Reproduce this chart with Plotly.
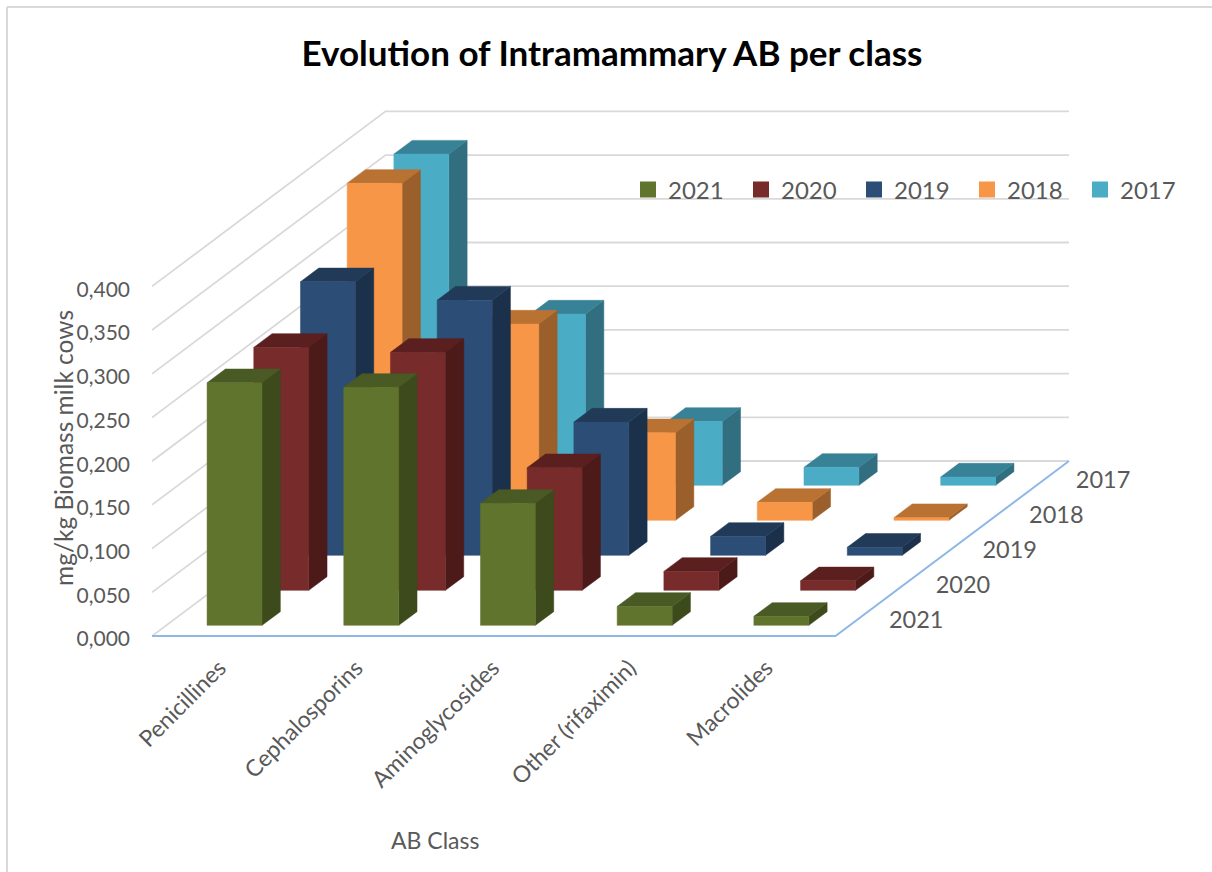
import plotly.graph_objects as go

categories = ["Penicillines", "Cephalosporins", "Aminoglycosides", "Other (rifaximin)", "Macrolides"]
years = ["2021", "2020", "2019", "2018", "2017"]
v2021 = [0.2776, 0.2723, 0.1396, 0.0217, 0.0103]
v2020 = [0.2780, 0.2723, 0.1403, 0.0217, 0.0109]
v2019 = [0.3130, 0.2920, 0.1525, 0.0217, 0.0092]
v2018 = [0.3856, 0.2246, 0.1002, 0.0206, 0.0031]
v2017 = [0.3790, 0.1960, 0.0732, 0.0206, 0.0095]
series = [v2021, v2020, v2019, v2018, v2017]
value_ticks = [0, 0.05, 0.10, 0.15, 0.20, 0.25, 0.30, 0.35, 0.40]

front_colors = ["#61742e", "#772b2b", "#2c4d75", "#f79646", "#4bacc6"]
top_colors = ["#4a5a24", "#5a1f1e", "#203a57", "#ba7233", "#388297"]
side_colors = ["#3d4a1b", "#4c1b19", "#1b304a", "#9a5f2b", "#316e80"]
grid_color = "#d9d9d9"
floor_color = "#8fb8e6"
text_color = "#595959"
font = "Lato"

W, H = 1212, 872
L, R, T, B = 152, 1190, 95, 650
ZERO = 636  # pixel row of value 0 on the front edge
px_per_cat = 136.7
px_per_val = 874.0
step_dx = 46.7 / px_per_cat   # oblique depth shift in category units
step_dy = 35.0 / px_per_val   # oblique depth shift in value units
bar_w = 0.402
bar_d = 0.392
n_c, n_s = len(categories), len(years)


def proj(c, v, d):
    return c + d * step_dx, v + d * step_dy


def ax_x(x):
    return (x - L) / (R - L)


def ax_y(y):
    return (B - y) / (B - T)


def polys(list_of_pts):
    xs, ys = [], []
    for pts in list_of_pts:
        for c, v, d in pts + [pts[0]]:
            a, b = proj(c, v, d)
            xs.append(a)
            ys.append(b)
        xs.append(None)
        ys.append(None)
    return xs, ys


fig = go.Figure()


def add_line(pts, color, width):
    xs, ys = [], []
    for c, v, d in pts:
        a, b = proj(c, v, d)
        xs.append(a)
        ys.append(b)
    fig.add_trace(go.Scatter(x=xs, y=ys, mode="lines", line=dict(color=color, width=width),
                             showlegend=False, hoverinfo="skip", cliponaxis=False))


# walls
for t in value_ticks:
    add_line([(0, t, 0), (0, t, n_s), (n_c, t, n_s)], grid_color, 1.8)
# floor edges
add_line([(0, 0, 0), (n_c, 0, 0), (n_c, 0, n_s)], floor_color, 2)

# bars, back to front
for s in range(n_s - 1, -1, -1):
    d0 = s + (1 - bar_d) / 2
    d1 = d0 + bar_d
    front, top, side = [], [], []
    for c, val in enumerate(series[s]):
        c0 = c + (1 - bar_w) / 2
        c1 = c0 + bar_w
        front.append([(c0, 0, d0), (c1, 0, d0), (c1, val, d0), (c0, val, d0)])
        top.append([(c0, val, d0), (c1, val, d0), (c1, val, d1), (c0, val, d1)])
        side.append([(c1, 0, d0), (c1, 0, d1), (c1, val, d1), (c1, val, d0)])
    for faces, col in ((side, side_colors[s]), (top, top_colors[s]), (front, front_colors[s])):
        xs, ys = polys(faces)
        fig.add_trace(go.Scatter(x=xs, y=ys, mode="lines", fill="toself", fillcolor=col,
                                 line=dict(color=col, width=0.5),
                                 showlegend=False, hoverinfo="skip"))

# depth-axis labels
lx, ly = [], []
for s in range(n_s):
    a, b = proj(n_c + 0.42, -0.004, s + 0.5)
    lx.append(a)
    ly.append(b)
fig.add_trace(go.Scatter(x=lx, y=ly, mode="text", text=years, textposition="middle center",
                         textfont=dict(family=font, size=23.5, color=text_color),
                         showlegend=False, hoverinfo="skip", cliponaxis=False))

# legend entries
for s in range(n_s):
    fig.add_trace(go.Scatter(x=[None], y=[None], mode="markers", name=years[s],
                             marker=dict(symbol="square", size=16, color=front_colors[s])))

fig.update_layout(
    width=W, height=H, autosize=False,
    margin=dict(l=L, r=W - R, t=T, b=H - B, pad=0, autoexpand=False),
    paper_bgcolor="white", plot_bgcolor="white",
    separators=", ",
    title=dict(text="<b>Evolution of Intramammary AB per class</b>", x=612 / W, y=1 - 54 / H,
               xanchor="center", yanchor="middle", font=dict(family=font, size=35, color="#000000")),
    legend=dict(orientation="h", x=ax_x(628), y=ax_y(190), xanchor="left", yanchor="middle",
                bgcolor="rgba(0,0,0,0)",
                entrywidth=68, entrywidthmode="pixels", traceorder="normal", tracegroupgap=0,
                font=dict(family=font, size=24, color=text_color), itemsizing="trace"),
    xaxis=dict(range=[0, (R - L) / px_per_cat], tickvals=[i + 0.5 for i in range(n_c)], ticktext=categories,
               tickangle=-45, showgrid=False, zeroline=False, showline=False, ticks="",
               ticklabelstandoff=-1, ticklabelshift=-1, tickfont=dict(family=font, size=23, color=text_color),
               fixedrange=True),
    yaxis=dict(range=[(ZERO - B) / px_per_val, (ZERO - T) / px_per_val], tickvals=value_ticks, tickformat=".3f",
               showgrid=False, zeroline=False, showline=False, ticks="",
               ticklabelstandoff=21, ticklabelshift=3, tickfont=dict(family=font, size=21, color=text_color),
               fixedrange=True),
    annotations=[
        dict(text="AB Class", xref="paper", yref="paper", x=ax_x(435), y=ax_y(840),
             showarrow=False, xanchor="center", yanchor="middle",
             font=dict(family=font, size=23, color=text_color)),
        dict(text="mg/kg Biomass milk cows", xref="paper", yref="paper", x=ax_x(64), y=ax_y(448),
             showarrow=False, textangle=-90, xanchor="center", yanchor="middle",
             font=dict(family=font, size=24.5, color=text_color)),
    ],
    shapes=[
        dict(type="line", xref="paper", yref="paper", x0=ax_x(7), x1=ax_x(7),
             y0=ax_y(7), y1=ax_y(H), line=dict(color=grid_color, width=2)),
        dict(type="line", xref="paper", yref="paper", x0=ax_x(7), x1=ax_x(W),
             y0=ax_y(7), y1=ax_y(7), line=dict(color=grid_color, width=2)),
    ],
)

fig.write_html("out.html", config=dict(displayModeBar=False),
               post_script="document.body.style.margin='0';document.body.style.overflow='hidden';")
